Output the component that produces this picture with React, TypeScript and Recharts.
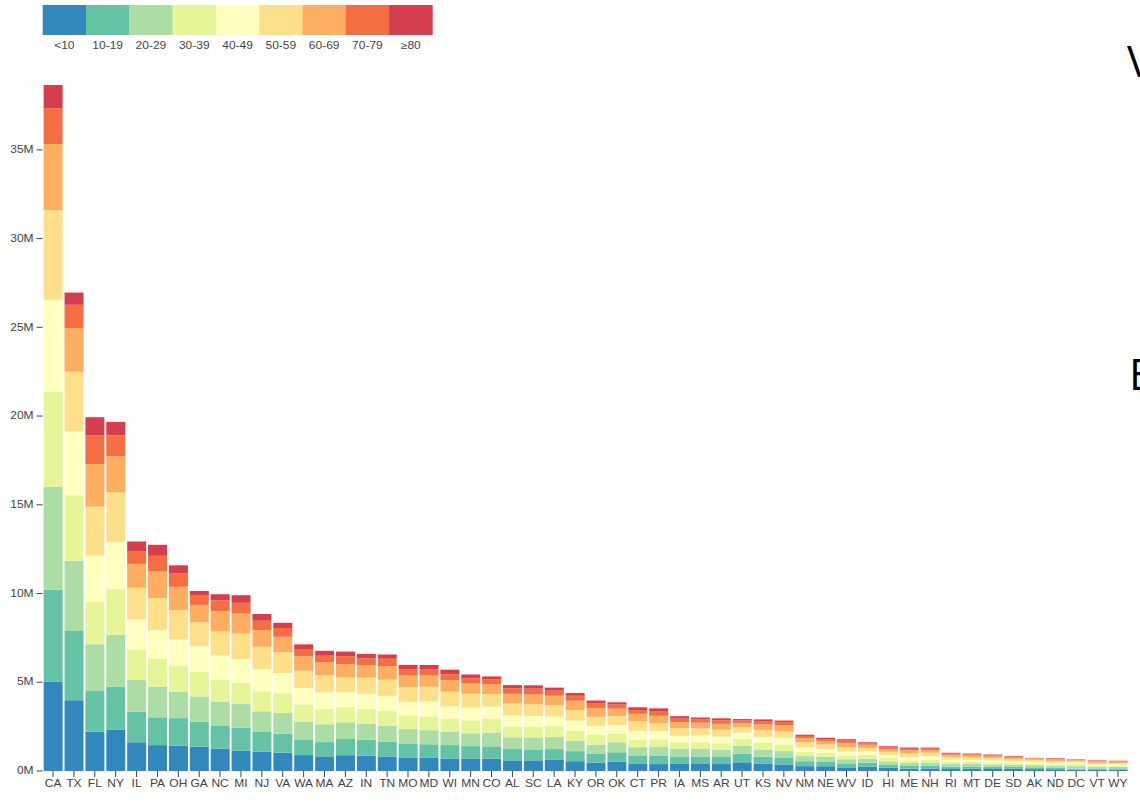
import React from 'react';
import { BarChart, Bar, XAxis, YAxis } from 'recharts';

const states = ['CA','TX','FL','NY','IL','PA','OH','GA','NC','MI','NJ','VA','WA','MA','AZ','IN','TN','MO','MD','WI','MN','CO','AL','SC','LA','KY','OR','OK','CT','PR','IA','MS','AR','UT','KS','NV','NM','NE','WV','ID','HI','ME','NH','RI','MT','DE','SD','AK','ND','DC','VT','WY'];

const ageGroups = ['<10','10-19','20-29','30-39','40-49','50-59','60-69','70-79','≥80'];
const ageColors = ['#3288bd','#66c2a5','#abdda4','#e6f598','#ffffbf','#fee08b','#fdae61','#f46d43','#d53e4f'];

// values in state order above
const under10 = [5038433,3983091,2211012,2319945,1619682,1458931,1430000,1363930,1249553,1147226,1079136,1033629,895790,788131,892083,863029,818404,763343,741952,705648,706249,690830,598478,599591,625932,553737,474356,528818,399369,389428,401712,394117,392177,490000,401751,368232,273522,268254,207017,236658,176484,129480,138762,111377,123051,112177,120952,106741,98298,74377,63768,75562];
const age10to19 = [5170341,3910528,2331102,2440000,1715984,1569012,1550000,1421557,1320000,1298855,1153625,1065461,882812,841236,912735,905594,836957,793244,764730,755224,698346,697447,638789,622138,610105,566110,487983,526441,481065,479749,418667,423722,397185,475000,402092,363722,277216,262083,218547,239509,163559,158087,167495,135014,124869,117135,110616,99926,84932,62783,79351,74020];
const age20to29 = [5809455,3948224,2597830,2920000,1789739,1714981,1490000,1418710,1350000,1325883,1130184,1170634,1004428,1002069,939804,905590,888453,806906,791079,760961,723789,780508,661666,674002,676034,578493,531618,561297,462323,480184,419456,423220,399698,455000,406956,390389,287437,261888,232027,218684,204160,160000,170000,144659,145303,133495,114975,120674,114629,136486,78442,82897];
const age30to39 = [5354112,3701136,2416176,2570000,1721954,1587624,1440000,1387148,1230000,1199643,1128119,1112111,970613,856613,857054,827086,833932,765224,776503,714479,724398,766382,603013,602891,614227,563417,550211,496212,424890,441842,381519,383681,372998,410000,368732,380081,249917,238713,219301,209500,186937,155000,160000,122838,120871,117049,102975,102008,86548,121063,68697,76912];
const age40to49 = [5179258,3590000,2575576,2650000,1697069,1599007,1500000,1437060,1360000,1339862,1241731,1134928,921205,941048,833290,844059,858436,764040,836233,697821,715707,691263,625599,601011,547935,571413,488911,479044,496265,456009,359012,378853,370157,330000,344427,375210,243178,216015,226044,195082,170930,190000,190000,134127,111887,113779,94262,92283,80009,79256,76564,66542];
const age50to59 = [5042094,3365000,2762983,2800000,1779679,1812340,1660000,1352853,1350000,1436050,1267563,1163741,970407,980461,834858,911778,908328,834838,830815,832262,782487,713090,673864,653446,624010,606567,520716,498727,546361,452503,427107,392948,395070,300000,389834,367312,278624,246115,242047,203611,176944,206253,204128,153670,136066,136060,113218,104659,102542,74924,93210,79521];
const age60to69 = [3737461,2450000,2404659,2030000,1347424,1515001,1310000,977064,1160000,1122497,946189,882302,807624,713737,737884,705855,760000,651913,650000,654939,578412,551594,548376,556321,540000,520000,502354,419025,409798,411924,353297,324081,329734,250000,309999,330000,230418,200089,238167,174800,163542,172700,154830,117095,120745,104548,89662,70473,79306,55964,80218,67746];
const age70to79 = [2011678,1320000,1615547,1180000,718098,867062,750000,522455,600000,608695,518106,493553,418713,369734,466153,385809,420000,369839,350000,329957,296451,286144,316598,330000,290000,280000,263011,234263,210000,268783,191160,184693,197985,140000,164719,190000,135012,101779,127826,91743,85741,84997,76463,60049,60958,56543,47018,28422,42008,28920,36853,34077];
const age80plus = [1311374,690000,1019566,760000,542452,620716,460000,261050,340000,426564,376007,296057,262211,279233,254716,247279,240000,232069,230000,257733,212434,151722,174781,190000,170000,153206,151706,128424,160000,148963,136203,106611,113468,76549,118920,77212,68498,75929,80226,48909,65580,66000,60026,48286,38434,34453,36025,12503,30049,24011,24991,20061];

const seriesValues = [under10, age10to19, age20to29, age30to39, age40to49, age50to59, age60to69, age70to79, age80plus];

const yTicks = [0, 5000000, 10000000, 15000000, 20000000, 25000000, 30000000, 35000000];

const data = states.map((s, i) => {
  const row: Record<string, number | string> = { state: s };
  ageGroups.forEach((g, j) => {
    row[g] = seriesValues[j][i];
  });
  return row;
});

const maxTotal = Math.max(
  ...states.map((_, i) => seriesValues.reduce((acc, arr) => acc + arr[i], 0))
);

const FONT = '"Liberation Sans", Arial, sans-serif';
const TEXT_FILL = '#444';
const STRETCH = 1.2;

const XTick = (props: any) => {
  const { x, y, payload } = props;
  return (
    <text
      transform={`translate(${x},${y}) scale(${STRETCH},1)`}
      textAnchor="middle"
      dy="0.71em"
      fontSize={10}
      fill={TEXT_FILL}
      fontFamily={FONT}
    >
      {payload.value}
    </text>
  );
};

const YTick = (props: any) => {
  const { x, y, payload } = props;
  return (
    <text
      transform={`translate(${x},${y}) scale(${STRETCH},1)`}
      textAnchor="end"
      dy="0.32em"
      fontSize={10}
      fill={TEXT_FILL}
      fontFamily={FONT}
    >
      {`${payload.value / 1000000}M`}
    </text>
  );
};

export default function App() {
  const legendX0 = 42.7;
  const legendW = 43.3;
  return (
    <div style={{ position: 'absolute', left: 0, top: 0, width: 1140, height: 803, overflow: 'hidden', background: '#fff' }}>
      <BarChart
        width={1140}
        height={803}
        data={data}
        margin={{ top: 85, right: 11.6, bottom: 0, left: 0 }}
        barCategoryGap="5%"
      >
        <XAxis
          dataKey="state"
          interval={0}
          axisLine={false}
          tickLine={{ stroke: '#444' }}
          tickSize={6}
          tickMargin={3}
          height={32}
          tick={<XTick />}
        />
        <YAxis
          type="number"
          domain={[0, maxTotal]}
          ticks={yTicks}
          width={42.6}
          axisLine={false}
          tickLine={{ stroke: '#444' }}
          tickSize={6}
          tickMargin={3}
          tick={<YTick />}
        />
        {ageGroups.map((g, j) => (
          <Bar key={g} dataKey={g} stackId="a" fill={ageColors[j]} isAnimationActive={false} />
        ))}
      </BarChart>
      <svg width={1140} height={803} style={{ position: 'absolute', left: 0, top: 0, pointerEvents: 'none' }}>
        {ageGroups.map((g, j) => (
          <g key={g}>
            <rect x={legendX0 + j * legendW} y={5} width={legendW + 0.3} height={30} fill={ageColors[j]} />
            <text
              transform={`translate(${legendX0 + j * legendW + legendW / 2},48.5) scale(${STRETCH},1)`}
              textAnchor="middle"
              fontSize={10}
              fill={TEXT_FILL}
              fontFamily={FONT}
            >
              {g}
            </text>
          </g>
        ))}
        <text x={1127} y={77} fontSize={43} fill="#000" fontFamily='"Open Sans", sans-serif'>V</text>
        <text x={1129} y={390} fontSize={43} fill="#000" fontFamily='"Open Sans", sans-serif'>E</text>
      </svg>
    </div>
  );
}
